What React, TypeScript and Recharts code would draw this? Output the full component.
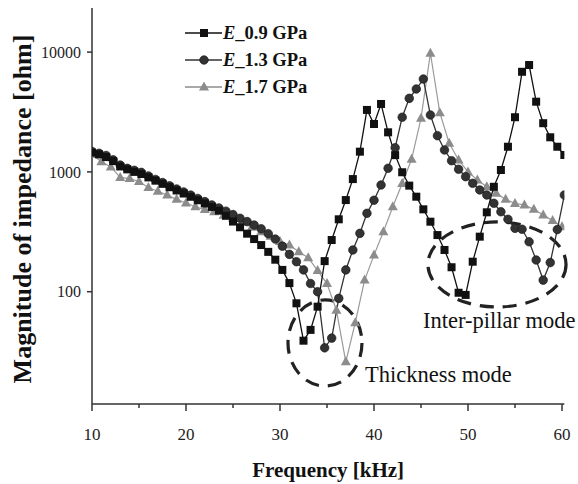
import React from 'react';
import { LineChart, Line, XAxis, YAxis, Legend, ReferenceArea, Label } from 'recharts';

const FONT = '"Liberation Serif", "Times New Roman", serif';

// E = 0.9 and 1.3 GPa were swept in 0.75 kHz steps, E = 1.7 GPa in 1 kHz steps
const FREQ_FINE = [
  10, 10.75, 11.5, 12.25, 13, 13.75, 14.5, 15.25, 16, 16.75, 17.5, 18.25, 19, 19.75, 20.5, 21.25, 22,
  22.75, 23.5, 24.25, 25, 25.75, 26.5, 27.25, 28, 28.75, 29.5, 30.25, 31, 31.75, 32.5, 33.25, 34, 34.75,
  35.5, 36.25, 37, 37.75, 38.5, 39.25, 40, 40.75, 41.5, 42.25, 43, 43.75, 44.5, 45.25, 46, 46.75, 47.5,
  48.25, 49, 49.75, 50.5, 51.25, 52, 52.75, 53.5, 54.25, 55, 55.75, 56.5, 57.25, 58, 58.75, 59.5, 60.25,
];
const FREQ_COARSE = [
  10, 11, 12, 13, 14, 15, 16, 17, 18, 19, 20, 21, 22, 23, 24, 25, 26, 27, 28, 29, 30, 31, 32, 33, 34, 35,
  36, 37, 38, 39, 40, 41, 42, 43, 44, 45, 46, 47, 48, 49, 50, 51, 52, 53, 54, 55, 56, 57, 58, 59, 60,
];

// |Z| in ohm
const IMP_09 = [
  1450, 1400, 1330, 1230, 1110, 1050, 1000, 960, 900, 845, 795, 745, 700, 660, 620, 580, 545, 510,
  475, 430, 385, 345, 305, 275, 245, 215, 185, 152, 118, 80,
  39, 48, 75, 180, 270, 402, 582, 871, 1475, 3290, 2510, 3690, 2140, 1380, 993, 768, 621, 487, 384, 297,
  223, 160, 98, 94, 178, 288, 460, 751, 1037, 1622, 2860, 6850, 7800, 3855, 2550, 1945, 1622, 1384,
];
const IMP_13 = [
  1480, 1430, 1370, 1260, 1140, 1070, 1030, 990, 925, 865, 815, 765, 720, 680, 640, 600, 565, 530,
  500, 470, 440, 410, 385, 360, 335, 305, 275, 240, 205, 178,
  152, 117, 100, 34, 41, 88, 152, 223, 307, 451, 580, 777, 1072, 1592, 2860, 4110, 4920, 5960, 2985, 2005,
  1525, 1240, 1052, 912, 803, 707, 641, 547, 465, 402, 338, 332, 261, 184, 125, 175, 330, 641,
];
const IMP_17 = [
  1400, 1216, 1100, 900, 880, 830, 740, 690, 640, 590,
  550, 512, 485, 465, 435, 410, 380, 345, 317, 290,
  262, 245, 216, 192, 150, 117, 70, 26, 55, 125,
  202, 317, 512, 800, 1273, 2800, 9780, 3120, 1733, 1256,
  1000, 855, 752, 662, 590, 545, 530, 487, 437, 392,
  349,
];

const X_TICKS = [10, 15, 20, 25, 30, 35, 40, 45, 50, 55, 60];
const X_LABELS = [10, 20, 30, 40, 50, 60];
const Y_TICKS = [100, 1000, 10000];

// annotation ellipses, in data units
const THICK_BOX = { x1: 30.85, x2: 38.72, y1: 16.3, y2: 85.3 };
const PILLAR_BOX = { x1: 45.74, x2: 60.43, y1: 74.5, y2: 382 };

const d09 = FREQ_FINE.map((f, i) => ({ f, z: IMP_09[i] }));
const d13 = FREQ_FINE.map((f, i) => ({ f, z: IMP_13[i] }));
const d17 = FREQ_COARSE.map((f, i) => ({ f, z: IMP_17[i] }));

const C09 = '#111111';
const C13 = '#333333';
const C17 = '#8c8c8c';

const marker = (shape: string, cx: number, cy: number, fill: string, key?: any) => {
  if (shape === 'square') return <rect key={key} x={cx - 4} y={cy - 4} width={8} height={8} fill={fill} />;
  if (shape === 'circle') return <circle key={key} cx={cx} cy={cy} r={4.3} fill={fill} stroke="#111" strokeWidth={0.6} />;
  return <polygon key={key} points={`${cx},${cy - 5.5} ${cx + 5},${cy + 3.5} ${cx - 5},${cy + 3.5}`} fill={fill} />;
};

const dotFor = (shape: string, fill: string) => (p: any) => {
  if (p.cx == null || p.cy == null) return <g key={p.index} />;
  return marker(shape, p.cx, p.cy, fill, p.index);
};

const SERIES = [
  { key: 'e09', label: '0.9 GPa', color: C09, shape: 'square' },
  { key: 'e13', label: '1.3 GPa', color: C13, shape: 'circle' },
  { key: 'e17', label: '1.7 GPa', color: C17, shape: 'triangle' },
];

const LegendBox = () => (
  <div style={{ fontFamily: FONT, fontWeight: 'bold', fontSize: 18.5, color: '#111' }}>
    {SERIES.map((s) => (
      <div key={s.key} style={{ display: 'flex', alignItems: 'center', height: 27 }}>
        <svg width={39} height={14} style={{ display: 'block' }}>
          <line x1={1} x2={38} y1={7} y2={7} stroke={s.color} strokeWidth={1.5} />
          {marker(s.shape, 20, 7, s.color)}
        </svg>
        <span>
          <i>E</i>_{s.label}
        </span>
      </div>
    ))}
  </div>
);

const XTick = (props: any) => {
  const { x, y, payload } = props;
  const major = X_LABELS.includes(payload.value);
  return (
    <g>
      <line x1={x} x2={x} y1={y} y2={y + (major ? 7 : 4)} stroke="#333" strokeWidth={1.5} />
      {major && (
        <text x={x} y={y + 36} textAnchor="middle" fontSize={17} fill="#222" fontFamily={FONT}>
          {payload.value}
        </text>
      )}
    </g>
  );
};

const XTitle = (props: any) => {
  const { x, width } = props.viewBox;
  return (
    <text x={x + width / 2} y={477} textAnchor="middle" fontSize={21} fontWeight="bold" fill="#111" fontFamily={FONT}>
      Frequency [kHz]
    </text>
  );
};

const YTitle = (props: any) => {
  const { y, height } = props.viewBox;
  const cy = y + height / 2 + 3;
  return (
    <text
      x={22}
      y={cy}
      transform={`rotate(-90 22 ${cy})`}
      textAnchor="middle"
      dominantBaseline="central"
      fontSize={26}
      fontWeight="bold"
      fill="#111"
      fontFamily={FONT}
    >
      Magnitude of impedance [ohm]
    </text>
  );
};

const ellipseShape = (text: string, place: 'right' | 'below') => (p: any) => {
  const cx = p.x + p.width / 2;
  const cy = p.y + p.height / 2;
  const tx = place === 'right' ? p.x + p.width + 3 : p.x - 5;
  const ty = place === 'right' ? p.y + p.height - 4 : p.y + p.height + 21;
  return (
    <g>
      <ellipse
        cx={cx}
        cy={cy}
        rx={p.width / 2}
        ry={p.height / 2}
        fill="none"
        stroke="#222"
        strokeWidth={3.2}
        strokeDasharray="14 9"
      />
      <text x={tx} y={ty} fontSize={22.5} fill="#111" fontFamily={FONT}>
        {text}
      </text>
    </g>
  );
};

export default function App() {
  return (
    <div style={{ width: 578, height: 484, background: '#fff', fontFamily: FONT }}>
      <style>{'body{margin:0;background:#fff}'}</style>
      <LineChart width={578} height={484} margin={{ top: 8, right: 13.65, bottom: 0, left: 0 }}>
        <XAxis
          type="number"
          dataKey="f"
          domain={[10, 60.25]}
          allowDataOverflow
          ticks={X_TICKS}
          interval={0}
          tick={<XTick />}
          tickLine={false}
          tickSize={0}
          tickMargin={0}
          height={80}
          axisLine={{ stroke: '#333', strokeWidth: 1.5 }}
        >
          <Label content={XTitle} />
        </XAxis>
        <YAxis
          type="number"
          scale="log"
          domain={[11.55, 23340]}
          allowDataOverflow
          ticks={Y_TICKS}
          interval={0}
          width={92}
          tickSize={5}
          tickMargin={6}
          tick={{ fontSize: 16, fill: '#222', fontFamily: FONT }}
          tickLine={{ stroke: '#333', strokeWidth: 1.5 }}
          axisLine={{ stroke: '#333', strokeWidth: 1.5 }}
        >
          <Label content={YTitle} />
        </YAxis>
        <Legend
          layout="vertical"
          align="center"
          verticalAlign="middle"
          content={LegendBox}
          wrapperStyle={{ left: 184, top: 19.5, width: 'auto', height: 'auto' }}
        />
        <Line
          data={d17}
          dataKey="z"
          name="E_1.7 GPa"
          type="linear"
          stroke="#9a9a9a"
          strokeWidth={1.2}
          dot={dotFor('triangle', C17)}
          activeDot={false}
          isAnimationActive={false}
        />
        <Line
          data={d13}
          dataKey="z"
          name="E_1.3 GPa"
          type="linear"
          stroke={C13}
          strokeWidth={1.3}
          dot={dotFor('circle', C13)}
          activeDot={false}
          isAnimationActive={false}
        />
        <Line
          data={d09}
          dataKey="z"
          name="E_0.9 GPa"
          type="linear"
          stroke={C09}
          strokeWidth={1.3}
          dot={dotFor('square', C09)}
          activeDot={false}
          isAnimationActive={false}
        />
        <ReferenceArea {...THICK_BOX} ifOverflow="visible" shape={ellipseShape('Thickness mode', 'right')} />
        <ReferenceArea {...PILLAR_BOX} ifOverflow="visible" shape={ellipseShape('Inter-pillar mode', 'below')} />
      </LineChart>
    </div>
  );
}
